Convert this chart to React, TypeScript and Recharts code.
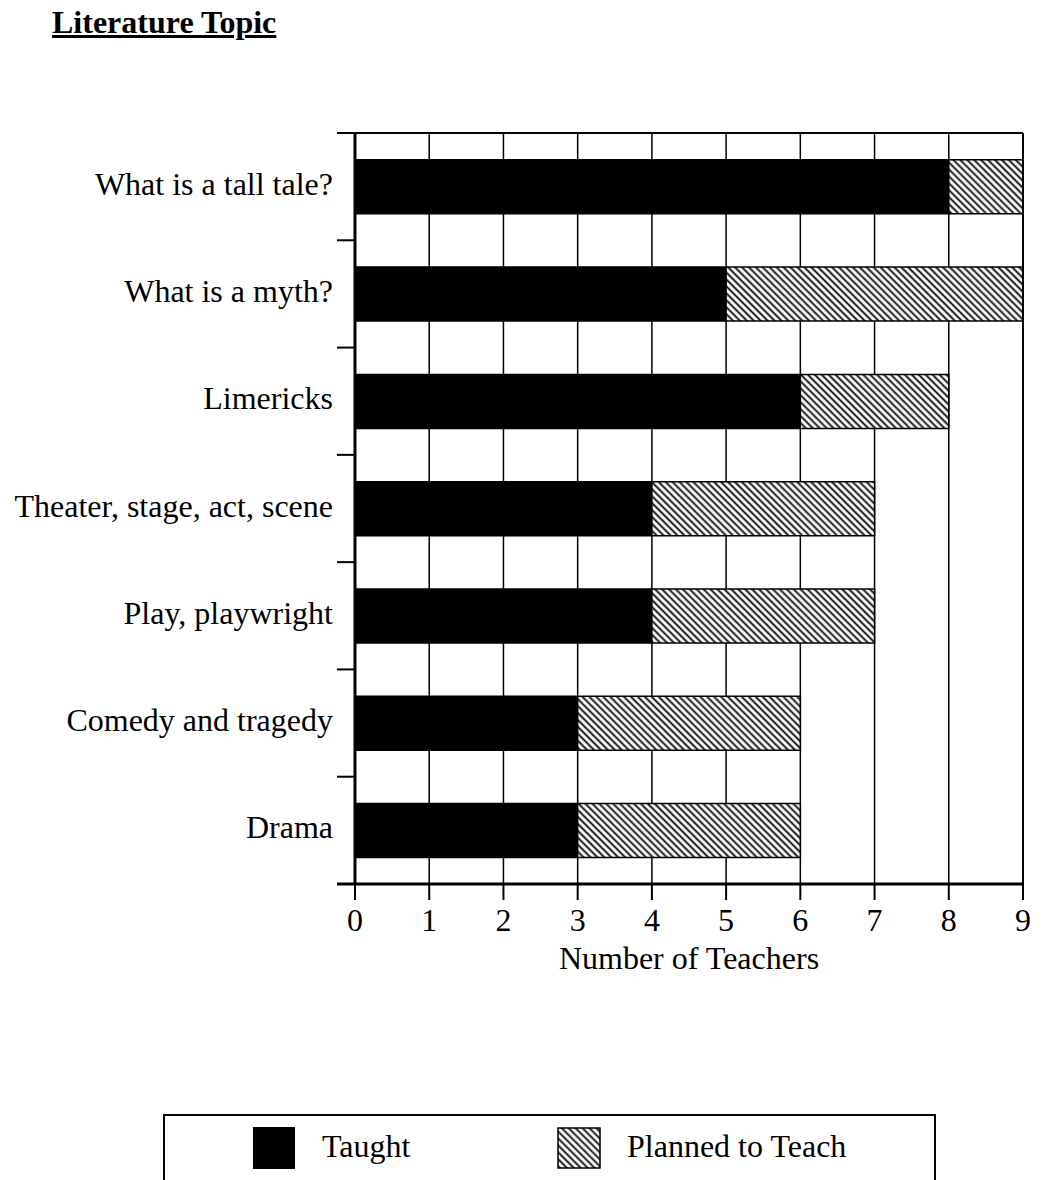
import { BarChart, Bar, XAxis, YAxis, CartesianGrid, ReferenceLine } from "recharts";

const topics = [
  "What is a tall tale?",
  "What is a myth?",
  "Limericks",
  "Theater, stage, act, scene",
  "Play, playwright",
  "Comedy and tragedy",
  "Drama",
];
const taught = [8, 5, 6, 4, 4, 3, 3];
const planned = [1, 4, 2, 3, 3, 3, 3];
const seriesNames = ["Taught", "Planned to Teach"];
const xTicks = [0, 1, 2, 3, 4, 5, 6, 7, 8, 9];

const data = topics.map((topic, i) => ({ topic, taught: taught[i], planned: planned[i] }));

const FONT = "'Liberation Serif', 'Times New Roman', serif";
const W = 1044;
const H = 1000;
const M = { top: 133, right: 21, bottom: 26, left: 0 };
const Y_AXIS_W = 355;
const X_AXIS_H = 90;
const PLOT_LEFT = M.left + Y_AXIS_W;
const PLOT_RIGHT = W - M.right;
const BAND = (H - M.top - M.bottom - X_AXIS_H) / topics.length;

// y-axis ticks sit on the category boundaries, not the centres
function CategoryTick(props: any) {
  const { y, payload, index } = props;
  const top = y - BAND / 2;
  const bottom = y + BAND / 2;
  return (
    <g>
      <line x1={PLOT_LEFT - 18} x2={PLOT_LEFT} y1={top} y2={top} stroke="#000" strokeWidth={2} />
      {index === 0 && (
        <line x1={PLOT_LEFT} x2={PLOT_RIGHT} y1={top} y2={top} stroke="#000" strokeWidth={2} />
      )}
      {index === topics.length - 1 && (
        <line x1={PLOT_LEFT - 18} x2={PLOT_LEFT} y1={bottom} y2={bottom} stroke="#000" strokeWidth={3} />
      )}
      <text x={PLOT_LEFT - 22} y={y + 8} textAnchor="end" fontSize={32} fontFamily={FONT} fill="#000">
        {payload.value}
      </text>
    </g>
  );
}

function Hatch({ id }: { id: string }) {
  return (
    <pattern id={id} width={4.9} height={4.9} patternUnits="userSpaceOnUse" patternTransform="rotate(-45)">
      <rect width={4.9} height={4.9} fill="#fff" />
      <line x1={2.45} y1={0} x2={2.45} y2={4.9} stroke="#000" strokeWidth={1.8} />
    </pattern>
  );
}

function LegendBox() {
  return (
    <svg
      width={774}
      height={80}
      style={{ position: "absolute", left: 163, top: 1114 }}
    >
      <defs>
        <Hatch id="hatchLegend" />
      </defs>
      <rect x={1} y={1} width={771} height={100} fill="#fff" stroke="#000" strokeWidth={2} />
      <rect x={90} y={13} width={42} height={42} fill="#000" />
      <text x={159} y={43} fontSize={32} fontFamily={FONT} fill="#000">
        {seriesNames[0]}
      </text>
      <rect x={395} y={14} width={42} height={40} fill="url(#hatchLegend)" stroke="#000" strokeWidth={1.5} />
      <text x={464} y={43} fontSize={32} fontFamily={FONT} fill="#000">
        {seriesNames[1]}
      </text>
    </svg>
  );
}

export default function App() {
  return (
    <div
      style={{
        position: "absolute",
        left: 0,
        top: 0,
        width: W,
        height: 1180,
        overflow: "hidden",
        background: "#fff",
        fontFamily: FONT,
      }}
    >
      <div
        style={{
          position: "absolute",
          left: 52,
          top: 6,
          fontSize: 32,
          lineHeight: "32px",
          fontWeight: "bold",
          textDecoration: "underline",
          color: "#000",
        }}
      >
        Literature Topic
      </div>

      <div style={{ position: "absolute", left: 0, top: 0 }}>
        <BarChart
          width={W}
          height={H}
          data={data}
          layout="vertical"
          margin={M}
          barCategoryGap="25%"
        >
          <defs>
            <Hatch id="hatch" />
          </defs>
          <CartesianGrid vertical horizontal={false} stroke="#000" strokeWidth={1.5} />
          <XAxis
            type="number"
            domain={[0, 9]}
            ticks={xTicks}
            interval={0}
            height={X_AXIS_H}
            tickSize={16}
            tickMargin={8}
            axisLine={{ stroke: "#000", strokeWidth: 3 }}
            tickLine={{ stroke: "#000", strokeWidth: 2 }}
            tick={{ fill: "#000", fontSize: 32, fontFamily: FONT }}
            label={{
              value: "Number of Teachers",
              position: "insideBottom",
              offset: 5,
              fill: "#000",
              fontSize: 32,
              fontFamily: FONT,
            }}
          />
          <YAxis
            type="category"
            dataKey="topic"
            width={Y_AXIS_W}
            interval={0}
            axisLine={{ stroke: "#000", strokeWidth: 3 }}
            tickLine={false}
            tick={<CategoryTick />}
          />
          <ReferenceLine x={9} stroke="#000" strokeWidth={2} />
          <Bar
            dataKey="taught"
            name={seriesNames[0]}
            stackId="a"
            fill="#000"
            stroke="#000"
            strokeWidth={1.5}
            isAnimationActive={false}
          />
          <Bar
            dataKey="planned"
            name={seriesNames[1]}
            stackId="a"
            fill="url(#hatch)"
            stroke="#000"
            strokeWidth={1.5}
            isAnimationActive={false}
          />
        </BarChart>
      </div>

      <LegendBox />
    </div>
  );
}
